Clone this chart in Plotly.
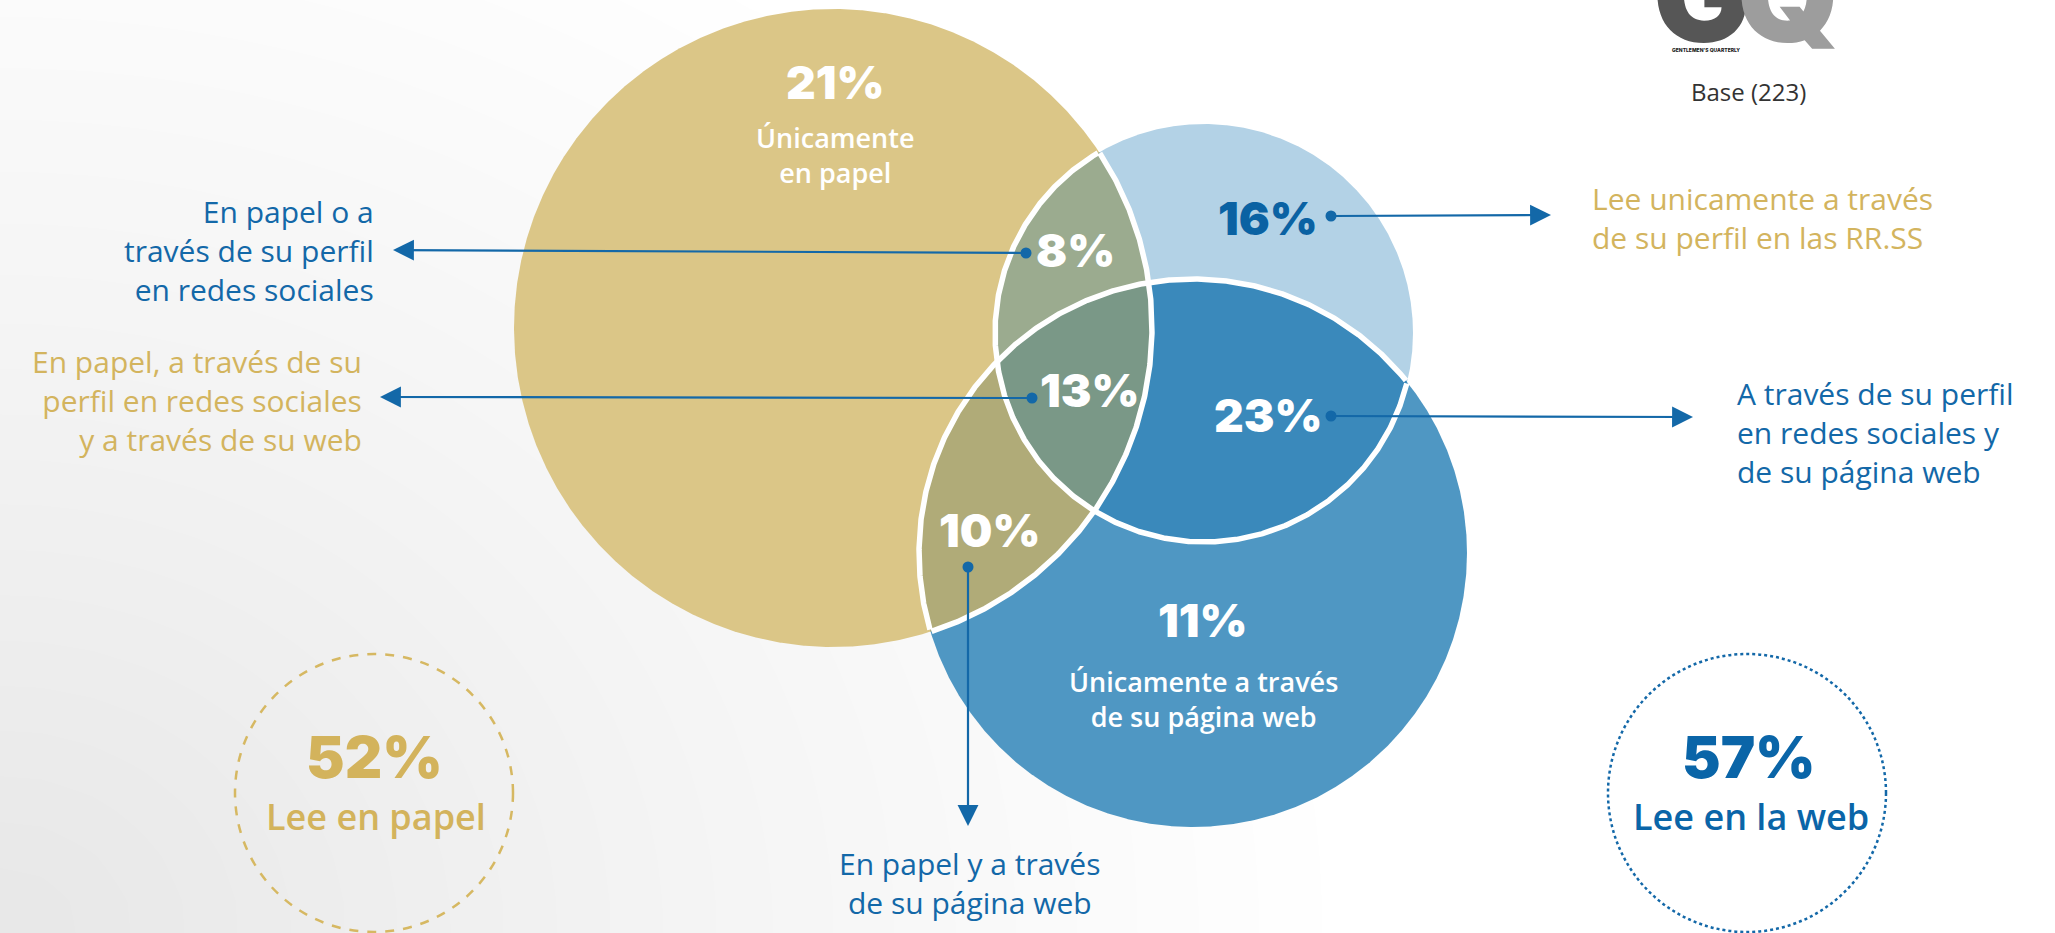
import numpy as np
import plotly.graph_objects as go

# ---------------- data ----------------
region_pcts = [21, 8, 13, 10, 16, 23, 11]
region_names = ["solo_papel", "papel_rrss", "todos", "papel_web", "solo_rrss", "rrss_web", "solo_web"]
region_sub = ["Únicamente<br>en papel", "", "", "", "", "", "Únicamente a través<br>de su página web"]
callout_texts = [
    "En papel o a<br>través de su perfil<br>en redes sociales",
    "En papel, a través de su<br>perfil en redes sociales<br>y a través de su web",
    "Lee unicamente a través<br>de su perfil en las RR.SS",
    "A través de su perfil<br>en redes sociales y<br>de su página web",
    "En papel y a través<br>de su página web",
]
total_pcts = [52, 57]
total_labels = ["Lee en papel", "Lee en la web"]
base_text = "Base (223)"

# ---------------- styling / geometry ----------------
W, H = 2055, 933
GOLD, LBLUE, BLUE = "#dbc687", "#b3d2e6", "#4f97c3"
C_GL, C_GB, C_LB, C_ALL = "#9bab8f", "#b0ab78", "#3a89bb", "#7a9887"
TXT_BLUE, TXT_GOLD = "#1368a8", "#d3b45e"
circles = {  # cx, cy, r (pixel space)
    "papel": (833, 328, 319),
    "rrss": (1204, 333, 209),
    "web": (1193, 553, 274),
}

fig = go.Figure()

# background gradient
gx = np.linspace(-60, W + 60, 44)
gy = np.linspace(-60, H + 60, 24)
GX, GY = np.meshgrid(gx, gy)
dist = np.sqrt((GX / 1350.0) ** 2 + ((H - GY) / 1150.0) ** 2)
Z = np.clip(dist, 0, 1)
fig.add_trace(go.Heatmap(x=gx, y=gy, z=Z, zsmooth="best", showscale=False, hoverinfo="skip",
                         colorscale=[[0, "#e7e7e7"], [0.55, "#f5f5f5"], [1, "#ffffff"]], zmin=0, zmax=1))

N = 1440
theta = np.linspace(0, 2 * np.pi, N, endpoint=False)


def circ_pts(name):
    cx, cy, r = circles[name]
    return cx + r * np.cos(theta), cy + r * np.sin(theta)


def inside(x, y, name, tol=0.5):
    cx, cy, r = circles[name]
    return (x - cx) ** 2 + (y - cy) ** 2 <= (r + tol) ** 2


def region(names):
    xs, ys = [], []
    for n in names:
        x, y = circ_pts(n)
        m = np.ones_like(x, dtype=bool)
        for o in names:
            if o != n:
                m &= inside(x, y, o)
        xs.append(x[m]); ys.append(y[m])
    x = np.concatenate(xs); y = np.concatenate(ys)
    mx, my = x.mean(), y.mean()
    order = np.argsort(np.arctan2(y - my, x - mx))
    return x[order], y[order]


def fill_poly(x, y, color):
    fig.add_trace(go.Scatter(x=np.append(x, x[0]), y=np.append(y, y[0]), mode="lines", fill="toself",
                             fillcolor=color, line=dict(width=0, color=color), hoverinfo="skip", showlegend=False))


for n, col in [("papel", GOLD), ("rrss", LBLUE), ("web", BLUE)]:
    x, y = circ_pts(n)
    fill_poly(x, y, col)
for names, col in [(["papel", "rrss"], C_GL), (["papel", "web"], C_GB), (["rrss", "web"], C_LB),
                   (["papel", "rrss", "web"], C_ALL)]:
    x, y = region(names)
    fill_poly(x, y, col)

# white outlines (only where circles overlap)
for n in circles:
    x, y = circ_pts(n)
    m = np.zeros_like(x, dtype=bool)
    for o in circles:
        if o != n:
            m |= inside(x, y, o, tol=-1)
    start = int(np.argmin(m))  # an outside point
    x = np.roll(x, -start); y = np.roll(y, -start); m = np.roll(m, -start)
    lx, ly = [], []
    for i in range(N):
        if m[i]:
            lx.append(x[i]); ly.append(y[i])
        elif lx and lx[-1] is not None:
            lx.append(None); ly.append(None)
    fig.add_trace(go.Scatter(x=lx, y=ly, mode="lines", line=dict(color="white", width=5.5),
                             hoverinfo="skip", showlegend=False))

# dashed / dotted total circles
shapes = [
    dict(type="circle", xref="x", yref="y", x0=374 - 139, x1=374 + 139, y0=793 - 139, y1=793 + 139,
         line=dict(color="#d6b862", width=2.5, dash="dash")),
    dict(type="circle", xref="x", yref="y", x0=1747 - 139, x1=1747 + 139, y0=793 - 139, y1=793 + 139,
         line=dict(color=TXT_BLUE, width=2.5, dash="dot")),
]

# callout lines: dot positions and arrow tips
dots = [(1026, 253), (1032, 398), (1331, 216), (1331, 416), (968, 567)]
tips = [(393, 250), (380, 397), (1551, 215), (1693, 417), (968, 826)]
fig.add_trace(go.Scatter(x=[d[0] for d in dots], y=[d[1] for d in dots], mode="markers",
                         marker=dict(size=11, color=TXT_BLUE), hoverinfo="skip", showlegend=False))

ann = []
for (dx, dy), (tx, ty) in zip(dots, tips):
    ann.append(dict(x=tx, y=ty, ax=dx, ay=dy, xref="x", yref="y", axref="x", ayref="y", text="",
                    showarrow=True, arrowhead=2, arrowsize=1.9, arrowwidth=2.2, arrowcolor=TXT_BLUE,
                    standoff=0, startstandoff=0))

PCT_FONT = "Inter"
pct_pos = [(835, 82), (1075, 250), (1090, 390), (990, 530), (1268, 218), (1268, 415), (1203, 620)]
pct_col = ["white", "white", "white", "white", "#0a62a3", "white", "white"]
for p, (x, y), c in zip(region_pcts, pct_pos, pct_col):
    ann.append(dict(x=x, y=y, xref="x", yref="y", text=f"{p}%", showarrow=False, xanchor="center",
                    yanchor="middle", font=dict(family=PCT_FONT, size=46, color=c, weight=900)))
sub_pos = {0: (835, 155), 6: (1203, 699)}
BODY = "Open Sans"
for i, (x, y) in sub_pos.items():
    ann.append(dict(x=x, y=y, xref="x", yref="y", text=region_sub[i], showarrow=False, xanchor="center",
                    yanchor="middle", align="center", font=dict(family=BODY, size=27, color="white", weight=600)))

ann += [
    dict(x=376, y=250, text=callout_texts[0], xanchor="right", align="right", font=dict(color=TXT_BLUE)),
    dict(x=364, y=400, text=callout_texts[1], xanchor="right", align="right", font=dict(color=TXT_GOLD)),
    dict(x=1590, y=218, text=callout_texts[2], xanchor="left", align="left", font=dict(color=TXT_GOLD)),
    dict(x=1735, y=432, text=callout_texts[3], xanchor="left", align="left", font=dict(color=TXT_BLUE)),
    dict(x=970, y=883, text=callout_texts[4], xanchor="center", align="center", font=dict(color=TXT_BLUE)),
]
for a in ann[-5:]:
    a.update(xref="x", yref="y", showarrow=False, yanchor="middle")
    a["font"].update(family=BODY, size=30)

# totals
for (x, col), p, lab in zip([(374, "#d3b35c"), (1749, "#0a65a8")], total_pcts, total_labels):
    ann.append(dict(x=x, y=757, xref="x", yref="y", text=f"{p}%", showarrow=False, yanchor="middle",
                    font=dict(family=PCT_FONT, size=58, color=col, weight=900)))
    ann.append(dict(x=x + 2, y=816, xref="x", yref="y", text=lab, showarrow=False, yanchor="middle",
                    font=dict(family=BODY, size=36, color=col, weight=600)))

# GQ logo (partially cut at top) and base
ann += [
    dict(x=1702, y=47, xref="x", yref="y", text="G", showarrow=False, yanchor="bottom", xanchor="center",
         font=dict(family="Inter", size=130, color="#565656", weight=900), yshift=-28),
    dict(x=1788, y=47, xref="x", yref="y", text="Q", showarrow=False, yanchor="bottom", xanchor="center",
         font=dict(family="Inter", size=130, color="#9d9d9d", weight=900), yshift=-28),
    dict(x=1706, y=50, xref="x", yref="y", text="GENTLEMEN'S QUARTERLY", showarrow=False, yanchor="middle",
         font=dict(family="Inter", size=5, color="#222", weight=800)),
    dict(x=1748, y=91, xref="x", yref="y", text=base_text, showarrow=False, yanchor="middle",
         font=dict(family=BODY, size=24, color="#333333")),
]

fig.update_layout(
    width=W, height=H, margin=dict(l=0, r=0, t=0, b=0),
    paper_bgcolor="white", plot_bgcolor="white",
    xaxis=dict(range=[0, W], visible=False, fixedrange=True),
    yaxis=dict(range=[H, 0], visible=False, fixedrange=True),
    shapes=shapes, annotations=ann, showlegend=False,
)
fig.write_html("out.html", config={"displayModeBar": False},
               post_script="document.body.style.margin='0';document.body.style.overflow='hidden';")
